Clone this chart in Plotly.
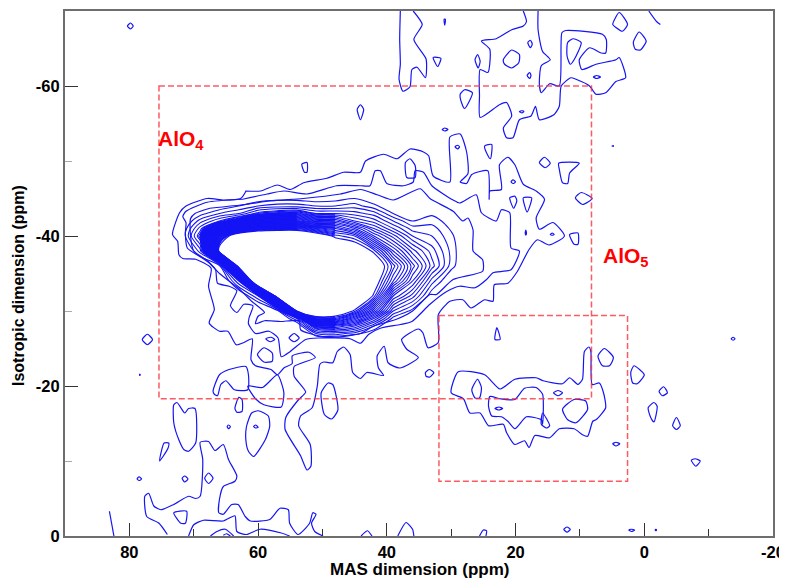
import plotly.graph_objects as go

# Peak intensity grid (contour index units)
peak_x = [72, 69, 66, 63, 60, 57, 54, 51, 48, 45, 42, 39, 36, 33, 30, 27]
peak_y = [-46, -44, -43, -42, -41, -40, -38, -36, -34, -32, -30, -29, -28, -27, -26]
peak_z = [
    [0, 0.5, 1, 1.5, 1.5, 1.5, 1.5, 1.5, 2, 2.5, 2, 1, 0.5, 0.5, 0.5, 0],
    [1, 2, 3, 4, 5, 5.5, 5.5, 5, 5, 5.5, 4.3, 3, 1.5, 1.5, 1.5, 1],
    [1.5, 3.5, 5, 6, 8.5, 9.5, 10, 8, 8, 7.5, 6.5, 4, 3, 3.8, 3, 1.5],
    [2, 5.5, 8, 11, 14, 15, 15, 13, 13, 10, 8.5, 6, 4, 4.5, 3.5, 2],
    [2.5, 7.5, 14, 18.5, 20.5, 21, 21, 19, 18, 15, 11, 8, 5.5, 5.5, 3.8, 2],
    [2.5, 9, 20, 24, 25, 25, 25, 24, 21.5, 20, 14, 10.5, 7, 6, 4.3, 2],
    [1, 5.5, 23, 26, 26, 26, 26, 26, 26, 25, 21.5, 15, 10.5, 7.5, 4.7, 2],
    [0, 1.5, 3.5, 23.5, 26, 26, 26, 26, 26, 26, 25, 19.5, 13.5, 8.5, 4.5, 2],
    [0, 0.5, 1, 7, 30, 30, 30, 30, 30, 30, 24, 17, 11, 5.5, 2.5, 1],
    [0, 0, 0.5, 2, 6, 24, 30, 30, 30, 28, 21.5, 11, 7.5, 3, 1.5, 0.5],
    [0, 0, 0, 1, 1, 3, 22, 26, 26, 21.5, 14, 6, 3.5, 1.5, 1, 0],
    [0, 0, 0, 0, 0.5, 1, 6, 20.5, 20, 15, 9, 3.5, 1.5, 1, 0.5, 0],
    [0, 0, 0, 0, 0, 0.5, 2, 10, 11, 9, 5, 2, 1, 0.5, 0, 0],
    [0, 0, 0, 0, 0, 0, 0.5, 5, 5.5, 4.5, 3, 1, 0.5, 0, 0, 0],
    [0, 0, 0, 0, 0, 0, 0, 2, 2.5, 1.5, 1, 0, 0, 0, 0, 0],
]

outer_1 = [(61.9,-46),(59.6,-46),(57,-46.8),(55,-46.2),(52.9,-47.1),(49.3,-47.7),(46.7,-48.5),(44.1,-48.5),(43.3,-50),(40.5,-50.9),(38.4,-50.3),(36.4,-51.6),(34.3,-51.2),(33.5,-50.7),(32.8,-48),(30.2,-47.2),(30.2,-53.2),(28.6,-53.6),(27.6,-51.2),(27.4,-48.3),(28.6,-47.2),(27.6,-47),(26.8,-48.2),(24.3,-48.7),(24.1,-44.9),(24,-46),(22.2,-46.2),(22.5,-49.5),(21.2,-50.5),(20.1,-49.5),(18.8,-46.9),(16.8,-46),(15.5,-44.9),(16.8,-42.4),(16.3,-40.9),(14.2,-41.8),(12.4,-40),(14.8,-38.8),(16.6,-39.5),(17.9,-38.2),(19.7,-35.3),(21.2,-33.7),(23.3,-33.5),(23.5,-31.3),(24.8,-31.5),(26.9,-30.4),(28.2,-31.5),(30.2,-31.3),(32,-29.5),(32,-25.8),(33.6,-25.1),(34.4,-27.1),(35.1,-27.6),(37.7,-26.2),(36.9,-24.9),(35.1,-23.8),(38,-22.4),(39.8,-23.1),(40.4,-25.3),(41.5,-24),(41.3,-22.4),(40.5,-21.4),(43.1,-21.8),(44.1,-21),(45.3,-21.8),(45.7,-24.2),(46.7,-25.2),(47.7,-24.6),(48.4,-23.1),(49.8,-23.2),(50.4,-22.9),(50.8,-20),(51.6,-17.1),(53.4,-16),(53.7,-14.7),(51.9,-12.2),(51.8,-9.3),(52.4,-8.8),(53.4,-10.7),(55.8,-14.2),(55.7,-15.8),(53.7,-18.2),(52.6,-19.2),(54.4,-21.3),(54.4,-22.6),(51.1,-23.8),(52.1,-24.5),(54.7,-24),(54.7,-23),(56,-22.4),(57,-21.5),(58,-22.2),(60.4,-22.7),(61.1,-23.5),(60.9,-26.3),(62.2,-25.8),(63.4,-25.5),(64.7,-27.3),(66,-27.3),(67.6,-28.4),(66.8,-30.2),(67.7,-33.3),(67.3,-35.7),(69.7,-36.9),(71.7,-37),(72.3,-37.5),(72.5,-39.3),(73.3,-40.2),(72.2,-43.1),(71.2,-44),(67.9,-45),(65.3,-44.8),(62.7,-45),(62,-45.8),(61.9,-46)]

outer_2 = [(62.4,-44.9),(58.6,-45.6),(56,-46),(52.4,-45.6),(47.8,-46.7),(44.1,-46.7),(42.6,-46.7),(41.8,-48.7),(41,-48.7),(40,-47),(37.4,-46.7),(35.9,-47.2),(35.6,-48.7),(34.3,-48.5),(33,-46.7),(29.7,-44.8),(28.7,-44.4),(26.1,-45.5),(25.3,-43.1),(23,-42),(22.2,-43.5),(20.9,-43.1),(20.7,-38.4),(19.4,-38),(20.7,-35.5),(23.5,-35.1),(24.5,-34.2),(26.3,-33.1),(28.7,-33.3),(30.7,-32.6),(33.3,-30.9),(36.1,-28.6),(37.9,-28.2),(41,-27.7),(42.8,-26.9),(44.1,-25.7),(45.7,-26.3),(50.6,-26.4),(52.6,-26.2),(55,-24.6),(56.4,-23.9),(56.9,-26.4),(58.3,-27.3),(60.4,-27),(61.5,-28.3),(61.4,-29.1),(60.8,-30.7),(62.2,-30.9),(63.3,-29.8),(64.3,-30.7),(63.3,-32.7),(64.5,-33.3),(66.3,-33.7),(66.6,-35.5),(67.3,-36.2),(69.1,-37.3),(71,-38.4),(71.3,-40.4),(71.2,-41.8),(71.7,-42.6),(71.2,-43.3),(67.9,-44.5),(62.4,-44.9)]

outer_3 = [(67.5,-43.7),(62,-44.2),(58,-44.7),(53,-45),(47.2,-45.6),(44.1,-46.2),(41.5,-45.5),(39,-44.8),(34.8,-46.3),(33.3,-45),(29.7,-43.3),(28.2,-42),(27.4,-42.4),(26.6,-40.8),(26.6,-38),(25.1,-36.8),(25.1,-35.3),(29.7,-34.2),(32.3,-32.2),(33.3,-32.2),(36,-30),(38.5,-28.9),(42,-28),(44.1,-27),(45.7,-26.8),(50,-26.6),(53.4,-27.5),(53.6,-28.7),(56.5,-28.6),(59,-28.7),(60.4,-28.3),(60,-29.3),(59,-29.8),(61,-31.3),(63,-33),(66,-35),(68,-36.8),(70,-38),(70.5,-40),(70.5,-42.3),(69.8,-43),(67.5,-43.7)]

blob_a = [(66.8,-18.9),(67,-19.3),(66,-21.5),(64.5,-22.2),(61.9,-22.6),(61.5,-21.5),(61.6,-19.5),(63.7,-19.5),(65,-20.7),(65.8,-20.2),(66.3,-18.7)]
blob_b = [(61.6,-20),(59.3,-19.8),(57,-21.5),(56,-19.1),(56.4,-17.2),(59.1,-17.5),(60.4,-18.3)]
blob_c = [(37.1,-49.8),(36.4,-50.3),(35.6,-49.4),(35.6,-47.8),(36.9,-47.8)]

top_a = [(37.9,-70),(38,-66.2),(37.9,-62.9),(38.1,-60.9),(37.5,-59.3),(36.4,-59.9),(36.1,-62.2),(35.3,-62.5),(34,-61.1),(33.9,-63.6),(35.8,-66.2),(34.5,-68.2),(35.9,-70)]
top_b = [(18.8,-70),(18.3,-68.6),(18.8,-68),(20.6,-67.5),(23,-66.3),(25.3,-66),(24,-64.9),(24.3,-61.8),(25.5,-62.2),(25.6,-58.7),(25.5,-55.8),(22.5,-57.5),(21.4,-57.8),(20.6,-56),(21.9,-54.4),(21.4,-53.1),(20.4,-53.1),(19.4,-55.5),(17.6,-56),(16.9,-57.3),(16.3,-55.5),(14,-56.2),(13.2,-57.3),(12.9,-60),(11.4,-61.1),(10.6,-60.9),(8.5,-60),(7.5,-58.9),(6,-59.1),(4.4,-60.6),(2.9,-61.1),(3.9,-63.8),(4.4,-63.5),(7.5,-62.9),(9.7,-62.2),(10.1,-63.5),(8.5,-65.1),(6.7,-64.4),(6,-64.4),(5.9,-66.2),(6.5,-66.9),(12.2,-67.4),(12.8,-67.1),(13.2,-60),(14.7,-60.3),(16,-59.1),(16.3,-60.2),(16,-62.7),(14.6,-63.5),(15.8,-64.6),(16.5,-67.5),(16.5,-70)]
top_c = [(-0.7,-70),(-1.9,-68.6),(-2.5,-68.2)]

isolated_top = [
    [(32.8,-63.8),(31.6,-63.7),(32.1,-62.6)],
    [(31.1,-68.9),(30.9,-68.9),(31,-68.1)],
    [(25.9,-64.2),(25.5,-63.3),(25.8,-62.4),(26.3,-63.5)],
    [(21.9,-63.5),(20.6,-64.8),(19.4,-64.2),(19.5,-63.1),(20.6,-62.4),(21.7,-62.9)],
    [(18.1,-65.8),(17.7,-66.1),(17.4,-65.6),(17.7,-65.1)],
    [(18.2,-61.4),(17.8,-61.8),(17.6,-61.4),(17.8,-61)],
    [(11.9,-65.8),(11.1,-66.3),(9.8,-65.8),(10.9,-63.5),(11.5,-62.9),(12,-64)],
    [(3.9,-69.8),(2.6,-68.2),(3.4,-67.3),(4.4,-67.8),(4.9,-68.2)],
    [(1.7,-65.8),(0.8,-67.2),(-0.3,-66),(0.6,-64.8),(1.4,-64.9)],
    [(7.9,-61.2),(7.4,-61.4),(6.8,-61.2),(7.4,-61)],
    [(28.6,-58.9),(27.9,-59.5),(26.7,-59.1),(27.9,-57),(28.4,-57.8)],
    [(19.4,-56.6),(19,-56.7),(18.7,-56.6),(19,-56.4)],
    [(31.4,-54.2),(31,-54.4),(30.5,-54.2),(31,-54)],
    [(29.4,-51.9),(29,-52.1),(28.7,-51.9),(29,-51.6)],
    [(24.8,-52),(23.7,-52.2),(23.9,-50.3),(24.4,-50.9)],
    [(16.3,-49.8),(15.5,-50.5),(14.6,-49.7),(15.4,-49.1)],
    [(13.3,-49.7),(10.1,-49.7),(11.6,-48.4),(11.9,-47),(12.7,-47.1),(13.2,-48.9)],
    [(10.7,-45.1),(9.8,-45.8),(8.1,-45),(9.6,-44.2)],
    [(11.6,-40.2),(10.3,-40.4),(10.3,-38.9),(10.9,-38.9)],
    [(20.9,-45.1),(20.1,-45.3),(19.8,-44.7),(20.3,-43.7)],
    [(18.8,-45.1),(17.5,-45.1),(18.2,-43.2)],
    [(20.7,-47.2),(20.4,-47.5),(20,-47.2),(20.4,-47)],
    [(18.4,-40.8),(18.3,-40.4),(18.4,-40.1),(18.5,-40.4)],
    [(14.6,-40.2),(14.3,-40.4),(14,-40.2),(14.3,-40.1)],
    [(5,-52),(4.8,-52.05),(4.8,-51.95)],
    [(53.2,-49.6),(52.4,-49.8),(52.4,-48.5),(52.8,-48.5)],
    [(44.6,-56.9),(44.1,-57.5),(43.6,-56.9),(44.1,-55.5)],
    [(80.3,-68),(79.8,-68.4),(79.4,-68),(79.8,-67.6)],
]

aluminate_outer = [(30,-19.1),(28.9,-21.9),(24.8,-21.5),(22.4,-19.6),(20.1,-20.9),(16.8,-21.1),(15.7,-20.7),(12.7,-20.3),(11.6,-21.1),(10.3,-20.2),(9.6,-20.9),(9.3,-24.6),(8.6,-25.2),(8.3,-24.6),(8.1,-20.2),(7,-20.4),(6.4,-19.3),(6,-17.1),(7.5,-15.5),(8,-15.3),(8.8,-13.3),(9.6,-13.5),(10.9,-14.3),(13.2,-14.3),(14.7,-13.1),(17,-13.4),(17.9,-11.8),(18.6,-12.7),(20.1,-12.2),(21.4,-13.8),(21.9,-14.9),(24.2,-14.7),(25.5,-16.4),(27.1,-16.4),(28.1,-18.3)]
aluminate_inner = [(24,-18.6),(22.4,-18.3),(20.1,-18.2),(18.6,-19.7),(16.8,-19.8),(15.8,-18.9),(15.8,-14.9),(16,-15.5),(18.3,-15.9),(20.1,-14.3),(21.2,-15.3),(22.2,-15.9),(23.7,-16),(24.2,-17.3)]

isolated_right = [
    [(22.9,-27.8),(22.4,-26.2),(23.2,-26.2)],
    [(15.8,-16.4),(14.7,-14.7),(15.2,-14.4),(16,-14.9)],
    [(26.8,-19.5),(25.9,-20.9),(25.3,-19.8),(25.6,-18.4),(26.3,-18.4)],
    [(14.1,-19.1),(13.4,-19.4),(12.7,-19.1),(13.4,-18.7)],
    [(23.2,-17),(22.6,-17.2),(22,-17),(22.6,-16.8)],
    [(12.7,-16.9),(10.9,-18.2),(9.1,-18),(8.8,-16.9),(10.6,-15.1),(11.9,-15.5)],
    [(7.2,-24),(6.2,-25),(4.8,-23.8),(5.4,-22.7),(6.5,-22.7)],
    [(2.1,-21.8),(1.6,-22.7),(0,-21.5),(1.1,-20.3),(1.8,-20.4)],
    [(-2.3,-19.3),(-3,-19.9),(-3.6,-19.1),(-2.8,-18.7)],
    [(-0.6,-17.1),(-1.5,-17.8),(-2,-17.3),(-1.5,-15.2),(-1,-15.8)],
    [(-4.4,-14.7),(-5,-15.8),(-5.6,-14.7),(-5,-14.2)],
    [(4.9,-12.3),(4.4,-12.5),(3.8,-12.3),(4.4,-12)],
    [(-7.3,-10.1),(-7.9,-10.3),(-8.7,-10),(-8,-9.3)],
    [(-13.5,-26.3),(-13.8,-26.5),(-14.1,-26.3),(-13.8,-26.1)],
    [(34,-21.8),(33.4,-22.2),(32.7,-21.8),(33.3,-21.2),(33.9,-21.3)],
    [(12.5,-0.9),(12,-1.2),(11.5,-0.9),(12,-0.5)],
    [(2.4,-0.8),(2,-0.9),(1.5,-0.8),(2,-0.6)],
    [(-1.7,-0.8),(-1.8,-0.9),(-1.9,-0.8),(-1.8,-0.7)],
]

low_open = [
    [(83.1,-3.3),(82.4,0)],
    [(74.1,-0.2),(75.4,-1.7),(77.3,-2.6),(77.6,-5.3),(77,-5.7),(76.2,-4),(75.1,-3.5),(73.1,-4.2),(70.8,-5.3),(69.7,-5),(69,-5.3),(68.6,-10.2),(69,-12.5),(67.7,-12.6),(66.7,-11.4),(65.4,-12.2),(64.6,-10.2),(63.3,-8),(63.6,-7.3),(65.4,-6.6),(66,-4.9),(66.1,-3.1),(65.4,-2.9),(64.1,-4.2),(63.1,-4.2),(62,-2.6),(61.2,-2),(58.2,-2.2),(56.6,-3.7),(55.3,-3.5),(55.1,-1.7),(53.8,-0.2),(52,-1.7),(51.5,-3.1),(51,-2.9),(51.7,-1.7),(51.2,-0.6),(49.9,0)],
    [(70.8,0),(70,-1.5),(68.5,-2.1),(65.4,-2),(63.6,-2.7),(63.3,-0.6),(61.8,-0.2),(59.7,-0.9),(56.4,-0.4),(55.1,0)],
    [(67.4,0),(66.4,-0.6),(65.1,-0.9),(63.8,0)],
    [(65.4,-0.1),(64.9,-0.3),(64.3,0)],
    [(44,0),(43,-0.7),(42.3,0)],
    [(38.3,0),(37,-1.8),(36,-0.9),(35.8,0)],
    [(25.6,0),(25,-0.8),(24.5,-0.7),(24.6,0)],
]

isolated_low = [
    [(73.1,-17.5),(72.6,-17.8),(71.4,-16.4),(70.8,-17),(69.8,-17),(69.7,-12.4),(70.8,-11.3),(71.5,-11.5),(72.3,-12.8),(73.1,-15.1)],
    [(75.3,-10),(74.6,-12.4),(73.9,-12.4),(74,-11.7)],
    [(78.8,-7.6),(78.5,-7.9),(78.1,-7.6),(78.5,-7.4)],
    [(71.8,-7.7),(71.4,-8),(70.9,-7.6),(71.4,-7.2)],
    [(68.3,-7.7),(67.7,-8.4),(67,-7.7),(67.7,-7)],
    [(73.1,-3.1),(71.1,-3.3),(71.3,-1.7),(72,-1.7)],
    [(63.4,-17.7),(63,-18.5),(62.5,-18.2),(62.5,-16.6),(63.3,-16.5),(63.6,-17)],
    [(64.6,-14.8),(64.3,-14.6),(64.6,-14.3),(64.8,-14.6)],
    [(61.8,-14.6),(61,-16.4),(60,-16.7),(58.4,-16),(58.2,-14.6),(58.9,-12.8),(60.7,-10.6),(61.5,-11.3),(61.9,-12.8)],
    [(60.7,-14.6),(60.4,-14.8),(60,-14.5),(60.4,-14.4)],
    [(50.2,-19.1),(49.1,-20.4),(48.4,-20.2),(47.6,-16.8),(48.6,-15.6),(49.7,-16.2)],
    [(78.4,-21.6),(78.3,-21.5),(78.4,-21.4)],
    [(60.1,-24.2),(59.1,-25.1),(57.8,-24.4),(57.8,-23.3),(59.1,-23.2)],
    [(58.8,-26.3),(58,-26.5),(57.4,-26.2),(58.1,-25.9)],
    [(55.2,-26.4),(54.4,-27),(53.6,-26.4),(54.4,-25.9)],
    [(78,-26.2),(77.2,-26.9),(76.4,-26.2),(77.2,-25.5)],
]

x_ticks = [80, 60, 40, 20, 0, -20]
x_tick_text = ["80", "60", "40", "20", "0", "-20"]
x_minor = [70, 50, 30, 10, -10]
y_ticks = [-60, -40, -20, 0]
y_tick_text = ["-60", "-40", "-20", "0"]
y_minor = [-70, -50, -30, -10]
box_alo4 = (75.4, 8.2, -60, -18.3)
box_alo5 = (31.9, 2.6, -29.4, -7.3)

BLUE = "#1414f5"
FONT = "Liberation Sans"
fig = go.Figure()
fig.add_trace(go.Contour(
    x=peak_x, y=peak_y, z=peak_z, showscale=False, hoverinfo="skip",
    contours=dict(coloring="none", start=4, end=22, size=1),
    line=dict(color=BLUE, width=1.1, smoothing=0.8),
))
# Denser intermediate levels on the steep flank of the peak
for n_cols, start, size in [(7, 9.33, 0.34), (9, 8.5, 1)]:
    fig.add_trace(go.Contour(
        x=peak_x[:n_cols], y=peak_y, z=[row[:n_cols] for row in peak_z],
        showscale=False, hoverinfo="skip",
        contours=dict(coloring="none", start=start, end=21.6, size=size),
        line=dict(color=BLUE, width=1.1, smoothing=0.8),
    ))


def add_line(points, closed):
    pts = list(points) + ([points[0]] if closed else [])
    fig.add_trace(go.Scatter(
        x=[p[0] for p in pts], y=[p[1] for p in pts], mode="lines",
        line=dict(color=BLUE, width=1.2, shape="spline", smoothing=0.6),
        hoverinfo="skip", showlegend=False,
    ))


for c in [outer_1, outer_2, outer_3, blob_a, blob_b, blob_c, aluminate_outer, aluminate_inner]:
    add_line(c, True)
for c in isolated_top + isolated_right + isolated_low:
    add_line(c, True)
for c in [top_a, top_b, top_c] + low_open:
    add_line(c, False)

for (x0, x1, y0, y1) in [box_alo4, box_alo5]:
    fig.add_shape(type="rect", x0=x0, x1=x1, y0=y0, y1=y1, xref="x", yref="y",
                  line=dict(color="rgba(250,50,60,0.8)", width=1.5, dash="6px,3px"))

for text, x, y in [("AlO<sub>4</sub>", 75.9, -52.8), ("AlO<sub>5</sub>", 6.8, -37.2)]:
    fig.add_annotation(x=x, y=y, text=f"<b>{text}</b>", showarrow=False, xanchor="left",
                       font=dict(family=FONT, size=21, color="#ff0000"))

fig.add_annotation(xref="paper", yref="paper", x=0.5014, y=-0.063, showarrow=False,
                   xanchor="center", yanchor="middle",
                   text="<b>MAS dimension (ppm)</b>", font=dict(family=FONT, size=17, color="black"))
fig.add_annotation(xref="paper", yref="paper", x=-0.0664, y=0.478, showarrow=False, textangle=-90,
                   xanchor="center", yanchor="middle",
                   text="<b>Isotropic dimension (ppm)</b>", font=dict(family=FONT, size=16, color="black"))

fig.update_layout(
    width=779, height=572, showlegend=False, paper_bgcolor="white", plot_bgcolor="white",
    margin=dict(l=57, r=14, t=3, b=44),
    font=dict(family=FONT, color="black"),
    xaxis=dict(
        range=[90, -20], showgrid=False, zeroline=False, showline=True, mirror=True, automargin=False,
        linecolor="#6e6e6e", linewidth=2, ticks="inside", ticklen=13, tickcolor="#333333", tickwidth=1,
        tickvals=x_ticks, ticktext=x_tick_text, tickfont=dict(size=16.5, family=FONT, weight="bold"),
        minor=dict(tickvals=x_minor, ticks="inside", ticklen=7, tickcolor="#333333", tickwidth=1),
    ),
    yaxis=dict(
        range=[0, -70], showgrid=False, zeroline=False, showline=True, mirror=True, automargin=False,
        linecolor="#6e6e6e", linewidth=2, ticks="inside", ticklen=13, tickcolor="#333333", tickwidth=1,
        tickvals=y_ticks, ticktext=y_tick_text, tickfont=dict(size=16.5, family=FONT, weight="bold"),
        minor=dict(tickvals=y_minor, ticks="inside", ticklen=7, tickcolor="#aaaaaa", tickwidth=1),
    ),
)
fig.write_html("out.html")
